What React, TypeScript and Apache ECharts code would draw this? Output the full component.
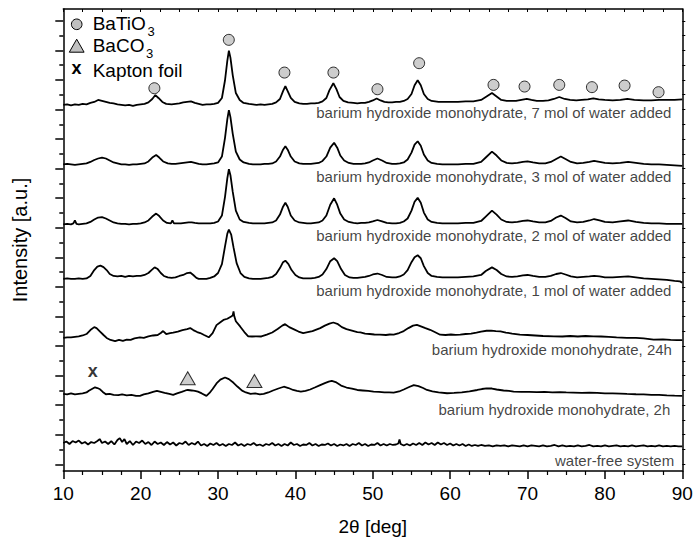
import React, { useEffect, useRef } from "react";
import * as echarts from "echarts";

const FONT = "Arial, 'Liberation Sans', Helvetica, sans-serif";

const traceNames = [
  "barium hydroxide monohydrate, 7 mol of water added",
  "barium hydroxide monohydrate, 3 mol of water added",
  "barium hydroxide monohydrate, 2 mol of water added",
  "barium hydroxide monohydrate, 1 mol of water added",
  "barium hydroxide monohydrate, 24h",
  "barium hydroxide monohydrate, 2h",
  "water-free system",
];

// vertical offset (stacking) of each pattern, arbitrary units
const traceOffsets = [364.7, 304.3, 243.4, 188.1, 128.2, 71.4, 21.6];

// [2theta, intensity above the pattern's own baseline] flat pairs
const trace7mol = [
  10,0, 10.5,0.5, 11,-0.5, 11.5,0.5, 12,0, 12.5,1, 13,0.5, 13.5,2, 14,3, 14.5,5, 15,4, 15.5,3, 16,2, 16.5,1.5, 17,0.5, 17.5,0, 18,-0.5, 18.5,0, 19,-1, 19.5,0, 20,0.5, 20.5,1, 21,2.5, 21.5,6, 21.9,10, 22.3,7, 22.8,3, 23.3,1, 24,0.5, 24.5,1, 25,1.5, 25.5,2.5, 26,3, 26.5,3.5, 27,2, 27.5,1, 28,0, 28.5,0.5, 29,0.5, 29.5,1, 30,2, 30.5,7, 30.9,25, 31.2,45, 31.4,55, 31.6,48, 31.9,30, 32.3,12, 32.8,5, 33.3,2, 34,1, 34.5,0.5, 35,0, 35.5,0.5, 36,0, 36.5,0.5, 37,1, 37.5,2.5, 38,6, 38.4,14, 38.7,19, 39,14, 39.4,7, 39.9,3, 40.5,1.5, 41,1, 41.5,1, 42,1.5, 42.5,1.5, 43,2, 43.5,3.5, 44,7, 44.4,15, 44.9,22, 45.3,16, 45.7,8, 46.2,4, 46.8,2.5, 47.5,2, 48,1.5, 48.5,2, 49,2, 49.5,3, 50,4.5, 50.5,6.5, 51,4.5, 51.5,3, 52,2.5, 52.5,2.5, 53,3, 53.5,3, 54,4, 54.5,6, 55,11, 55.4,20, 55.8,25, 56.2,20, 56.6,11, 57.1,6, 57.6,4, 58.5,3, 59,3, 60,3, 61,3, 62,3.5, 63,3.5, 64,5, 64.6,8, 65.4,12, 66,8.5, 66.6,5, 67.3,4, 68,4, 68.5,4, 69.2,5, 69.9,6, 70.5,5, 71.2,4, 72,4, 72.7,4.5, 73.4,6, 74.1,8, 74.8,6, 75.5,5, 76.3,4.5, 77,5, 77.8,5.5, 78.5,6.5, 79.2,5.5, 80,5, 81,4.5, 82,5, 82.9,6, 83.8,5, 85,4.5, 86,4.5, 87,5, 88,5, 89,5, 90,5.5,
];
const trace3mol = [
  10,0, 10.5,0.5, 11,0, 11.5,-0.5, 12,0, 12.5,0.5, 13,1, 13.5,2.5, 14,4.5, 14.5,6, 15,7, 15.5,6, 16,4, 16.5,2, 17,1, 17.5,0, 18,0, 18.5,-0.5, 19,0, 19.5,0, 20,0.5, 20.5,1, 21,3, 21.5,7, 22,9.5, 22.4,7, 22.9,3, 23.5,1, 24,0.5, 24.5,0.5, 25,1, 25.5,1.5, 26,2, 26.5,2.5, 27,1.5, 27.5,0.5, 28,0, 28.5,0, 29,0.5, 29.5,1, 30,2, 30.5,8, 30.9,27, 31.2,46, 31.4,55, 31.6,48, 31.9,31, 32.3,13, 32.8,5, 33.3,2, 34,0.5, 34.5,0, 35,0, 35.5,0, 36,0.5, 36.5,0.5, 37,1, 37.5,3, 38,8, 38.4,15, 38.7,18.5, 39,15, 39.4,8, 39.9,3, 40.5,1, 41,0.5, 41.5,0.5, 42,0.5, 42.5,1, 43,1.5, 43.5,3.5, 44,8, 44.5,17, 45,22, 45.4,17, 45.8,9, 46.3,4, 46.9,1.5, 47.5,0.5, 48,0.5, 48.5,0.5, 49,1, 49.5,2, 50,4, 50.6,6, 51.2,4, 51.8,1.5, 52.5,0.5, 53,0.5, 53.5,1, 54,2, 54.5,5, 55,12, 55.4,20, 55.8,23.5, 56.2,19, 56.6,10, 57.1,4, 57.6,1.5, 58.3,0.5, 59,0, 60,0, 61,0, 62,0.5, 63,0.5, 64,2.5, 64.6,7, 65.4,13, 66,9, 66.6,4, 67.3,1.5, 68,1, 68.7,1.5, 69.4,2.5, 70,3, 70.7,2, 71.5,1, 72.3,1, 73,2.5, 73.7,5.5, 74.3,8, 74.9,5.5, 75.6,2.5, 76.4,1, 77.2,1.5, 78,2.5, 78.6,3.5, 79.3,2.5, 80,1.5, 81,1, 82,1.5, 83,2.5, 84,1.5, 85,0.5, 86,0, 87,0, 88,-0.5, 89,-1, 90,-1.5,
];
const trace2mol = [
  10,0, 10.5,0.5, 11,0, 11.3,1, 11.5,4, 11.7,0.5, 12,0, 12.5,0.5, 13,1, 13.5,2.5, 14,5, 14.5,7, 15,7.5, 15.5,6, 16,4, 16.5,2, 17,1, 17.5,0.5, 18,0.5, 18.5,0, 19,0.5, 19.5,0.5, 20,1, 20.5,2, 21,4, 21.5,8, 22,11, 22.4,8.5, 22.9,4, 23.4,1.5, 23.9,1, 24.1,4, 24.3,1, 24.7,1, 25.2,1, 25.7,1.5, 26.2,2, 26.6,2, 27,1.5, 27.5,1, 28,1, 28.5,1, 29,1, 29.5,1.5, 30,3, 30.5,9, 30.9,28, 31.2,47, 31.4,56, 31.6,50, 31.9,33, 32.3,14, 32.8,5, 33.3,2.5, 34,1.5, 34.5,1, 35,1, 35.5,1, 36,1, 36.5,1.5, 37,2, 37.5,4, 38,10, 38.4,18, 38.7,22, 39,18, 39.4,9, 39.9,4, 40.5,2, 41,1.5, 41.5,1, 42,1, 42.5,1.5, 43,2, 43.5,4, 44,9, 44.5,20, 45,26.5, 45.4,20, 45.8,11, 46.3,5, 46.9,2.5, 47.5,1.5, 48,1, 48.5,1.5, 49,1.5, 49.5,2, 50,3, 50.6,4.5, 51.2,3, 51.8,1.5, 52.5,1, 53,1, 53.5,1.5, 54,3, 54.5,6, 55,14, 55.4,23, 55.8,27, 56.2,22, 56.6,12, 57.1,5, 57.6,2.5, 58.3,1.5, 59,1, 60,1, 61,1, 62,1.5, 63,1.5, 64,3.5, 64.6,8, 65.4,14, 66,10, 66.6,5, 67.3,2.5, 68,2, 68.7,2.5, 69.4,3.5, 70,4, 70.7,3, 71.5,2, 72.3,2, 73,3.5, 73.7,7, 74.3,9, 74.9,6.5, 75.6,3, 76.4,2, 77.2,2.5, 78,4, 78.6,5.5, 79.3,4, 80,2.5, 81,2, 82,3, 83,4, 84,2.5, 85,1.5, 86,1, 87,1, 88,0.5, 89,0.5, 90,0.5,
];
const trace1mol = [
  10,0, 10.5,0.5, 11,0, 11.5,0, 12,0.5, 12.5,0, 13,0.5, 13.5,3, 14,9, 14.4,12.5, 14.8,13.5, 15.2,12, 15.6,9, 16,5, 16.5,3, 17,2.5, 17.5,3, 18,2, 18.5,3, 19,2.5, 19.5,3, 20,3, 20.5,4, 21,6, 21.4,9, 21.8,11.7, 22.2,10, 22.6,6, 23,3, 23.5,1.5, 24,1, 24.5,1.5, 25,3, 25.5,4, 26,6, 26.4,6.5, 26.8,4, 27.2,1, 27.5,0, 28,0, 28.5,0, 29,1, 29.5,2.5, 30,6, 30.5,15, 30.9,33, 31.2,46, 31.4,50, 31.7,45, 32,32, 32.4,16, 32.9,6, 33.4,2, 34,0.5, 34.5,0, 35,0, 35.5,0, 36,0.5, 36.5,1, 37,2, 37.5,5, 38,11, 38.4,17, 38.7,18.5, 39.1,15, 39.5,9, 40,4, 40.5,1.5, 41,0.5, 41.5,0.5, 42,0.5, 42.5,1, 43,2, 43.5,4.5, 44,10, 44.5,18, 45,21, 45.4,18, 45.9,10, 46.4,4, 47,1.5, 47.5,1, 48,1, 48.5,1.5, 49,2, 49.5,3, 50,4.5, 50.6,5.5, 51.2,4, 51.8,2, 52.5,1.5, 53,1.5, 53.5,2.5, 54,4.5, 54.5,9, 55,17, 55.4,22, 55.8,24, 56.2,21, 56.6,13, 57.1,6, 57.6,3, 58.3,2, 59,1.5, 60,1.5, 61,1.5, 62,2, 63,2.5, 64,4, 64.6,8, 65.4,11.7, 66,9, 66.6,5, 67.3,2.5, 68,2, 68.7,2.5, 69.4,3.5, 70,4, 70.7,3, 71.5,2, 72.3,2, 73,3, 73.7,5, 74.3,6, 74.9,4.5, 75.6,2.5, 76.4,1.5, 77.2,2, 78,2.5, 78.6,3, 79.3,2.5, 80,1.5, 81,1.5, 82,2, 83,2.5, 84,1.5, 85,0.5, 86,0, 87,-0.5, 88,-1, 89,-2, 89.7,-2.5, 90,-3.7,
];
const trace24h = [
  10,0, 10.5,0.5, 11,0.5, 11.5,1, 12,1.5, 12.5,2.5, 13,4, 13.5,8, 14,11, 14.3,10, 14.75,6.5, 15.2,3, 15.6,0, 16.1,-2, 16.7,-3.3, 17.2,-2, 17.7,-3, 18.2,-1.7, 18.7,-2, 19.2,-0.5, 19.9,0.5, 20.4,0, 21,1.5, 21.6,2.5, 22.2,3, 22.6,5, 22.9,7, 23.3,4, 23.8,5, 24.2,5.5, 24.8,6.5, 25.4,8, 26,9, 26.4,10, 26.8,8, 27.3,6, 27.7,5, 28.2,3, 28.8,0.7, 29.3,5, 29.8,13, 30.3,16, 30.7,18.3, 31.2,19.5, 31.7,21.7, 31.9,23, 32,27, 32.1,22, 32.3,17, 32.85,11.7, 33.4,6, 33.9,1.7, 34.4,1.5, 35,1.7, 35.6,1.5, 36.3,3.3, 37,5.5, 37.7,9, 38.3,12.5, 38.67,14, 39.2,11, 39.75,9, 40.4,6.5, 41,5, 41.6,6, 42.2,7, 42.7,8.5, 43.2,10, 43.8,12.5, 44.4,14.5, 44.9,15.7, 45.5,14, 46,11, 46.6,9, 47.3,7.5, 48,6, 48.4,5.7, 49,4.5, 49.6,4, 50.2,3.5, 50.9,3.3, 51.7,3, 52.2,3.5, 52.7,3.3, 53.4,5, 54,7, 54.6,10, 55.2,12.5, 55.7,13.3, 56.3,11.5, 56.8,10, 57.4,8.3, 58,6, 58.7,3.3, 59.4,3, 60.1,3.5, 60.7,3.2, 61.3,3.3, 62,4, 62.7,4.5, 63.4,5.5, 64,6.5, 64.7,7.3, 65.3,7.5, 65.9,7, 66.5,6.7, 67.2,5.5, 68,4.5, 69,3.3, 70,3, 71,2.5, 72,2, 73.4,1.7, 74.5,1.5, 75.5,2, 76.5,1.5, 77.5,2, 78.5,1.7, 79.5,1.5, 80.5,1, 81.5,0.5, 82.85,0, 84,0, 85,-0.5, 86.3,-1.7, 87.5,-1.5, 88.5,-2, 89.3,-2.3, 90,-2.3,
];
const trace2h = [
  10,0, 10.5,-0.5, 11,0.5, 11.5,-0.5, 12,0, 12.5,0.5, 13,1.5, 13.3,3.3, 13.7,5, 14.1,6.7, 14.4,6, 14.75,4.7, 15.1,2, 15.5,-0.3, 16,0, 16.5,-1, 17.1,-1.3, 17.6,-0.5, 18.2,-1.5, 18.8,-1, 19.4,-2, 19.9,-2, 20.4,-0.5, 21,0.5, 21.6,2, 22.1,3, 22.6,2, 23.1,1, 23.7,0, 24.2,-1, 24.7,0.5, 25.3,2, 25.8,3.5, 26.1,4, 26.6,3.5, 27,3, 27.4,2.3, 27.9,0.5, 28.5,-2, 28.9,1, 29.3,5, 29.8,10.7, 30.3,14.5, 30.9,16.7, 31.4,15, 32,11.3, 32.5,7.5, 33.1,3.3, 33.6,1.5, 34.2,0, 34.8,0.5, 35.4,-0.5, 35.9,0, 36.5,1.5, 37.1,3.5, 37.8,5.5, 38.5,7.3, 39.1,6, 39.7,4, 40.2,3, 40.7,2.3, 41.3,3, 41.9,4.5, 42.5,6.5, 43.2,9, 43.8,11, 44.3,12.5, 44.7,13.3, 45.2,12, 45.9,8.5, 46.6,6.5, 47.3,5.5, 48,4, 48.7,3.5, 49.4,3, 50.1,2.3, 50.8,2, 51.5,1.5, 52.1,1.5, 52.7,1.3, 53.4,2.5, 54,4.5, 54.7,7, 55.3,9, 55.9,8, 56.5,6, 57,4, 57.7,2.5, 58.5,1.5, 59.6,0.7, 60.5,1, 61.5,1.5, 62.5,2.5, 63.5,4, 64.1,5, 64.7,5.7, 65.4,5.5, 66,4.5, 66.9,3.5, 67.6,3, 68.2,2.3, 69.2,2, 70.2,2, 71.2,1.8, 72.2,2, 73.2,1.5, 74.2,1.8, 75,1.5, 75.9,1.3, 77,1, 78,1.3, 79,1, 80,0.5, 81,0.5, 82,0.3, 82.85,0, 84,-0.3, 85,-0.5, 86,-1, 87,-1, 88,-1.5, 89,-1.8, 90,-2,
];
const traceWaterFree = [
  10,0, 10.4,1.5, 10.8,-1, 11.2,2, 11.6,0.5, 12,2.5, 12.4,-0.5, 12.8,1, 13.2,-1.5, 13.6,1, 14,0, 14.4,2, 14.7,4, 15,0, 15.4,1.5, 15.8,-1, 16.2,2, 16.6,-1.5, 17,3, 17.3,5, 17.6,1, 17.9,4, 18.2,-1, 18.6,2, 19,-2, 19.4,1.5, 19.8,0, 20.2,2.5, 20.6,-1, 21,1, 21.4,-2, 21.8,1.5, 22.2,-1, 22.6,0.5, 23,-2, 23.4,1, 23.8,-1.5, 24.2,0.5, 24.6,-2.5, 25,0, 25.4,-1, 25.8,1.5, 26.2,-2, 26.6,0, 27,-1.5, 27.4,1.5, 27.8,-2.5, 28.2,-1, 28.6,-3, 29,-0.5, 29.4,-2, 29.8,0, 30.2,-2.5, 30.6,-1, 31,-3, 31.4,-1, 31.8,-2, 32.2,0.5, 32.6,-2.5, 33,-1, 33.4,-3, 33.8,-1, 34.2,-2, 34.6,0, 35,-2.5, 35.4,-1.5, 35.8,-3, 36.2,-1, 36.6,-2, 37,0, 37.4,-2.5, 37.8,-1, 38.2,-3, 38.6,-1, 39,-2.5, 39.4,0.5, 39.8,-2, 40.2,-1, 40.6,-3, 41,-1.5, 41.4,-2, 41.8,0, 42.2,-2.5, 42.6,-1, 43,-3, 43.4,-1.5, 43.8,-2, 44.2,-0.5, 44.6,-2.5, 45,-1, 45.4,-3, 45.8,-1.5, 46.2,-2.5, 46.6,-1, 47,-3, 47.4,-1, 47.8,-2, 48.2,0, 48.6,-2.5, 49,-1, 49.4,-3, 49.8,-1.5, 50.2,-2, 50.6,0, 51,-2.5, 51.4,-1, 51.8,-2.5, 52.2,-1, 52.6,-2, 53,-1.5, 53.3,-0.5, 53.45,3.5, 53.6,-1, 54,-2.5, 54.4,-1, 54.8,-2.5, 55.2,-0.5, 55.6,-2, 56,0, 56.4,-2, 56.8,0.5, 57.2,-1.5, 57.6,0, 58,-2, 58.4,0.5, 58.8,-1.5, 59.2,0, 59.6,-2, 60,-0.5, 60.4,-2.5, 60.8,-1, 61.2,-2.5, 61.6,-1, 62,-3, 62.4,-1.5, 62.8,-3, 63.2,-2, 63.6,-3, 64,-2, 64.5,-3, 65,-2.5, 65.5,-3.5, 66,-2.5, 66.5,-3, 67,-2.5, 67.5,-3.5, 68,-2.5, 68.5,-3, 69,-3.5, 69.5,-2.5, 70,-3.5, 70.5,-2.5, 71,-3, 71.5,-3.5, 72,-2.5, 72.5,-3.5, 73,-3, 73.5,-2, 74,-3.5, 74.5,-2.5, 75,-3.5, 75.5,-3, 76,-3.5, 76.5,-2.5, 77,-3.5, 77.5,-3, 78,-2, 78.5,-3.5, 79,-3, 79.5,-3.5, 80,-2.5, 80.5,-3.5, 81,-3, 81.5,-2.5, 82,-3.5, 82.5,-3, 83,-3.5, 83.5,-2.5, 84,-3.5, 84.5,-3, 85,-2.5, 85.5,-3.5, 86,-3, 86.5,-3.5, 87,-2.5, 87.5,-3.5, 88,-3, 88.5,-3.5, 89,-3, 89.5,-3.5, 90,-3.5,
];

const traces = [trace7mol, trace3mol, trace2mol, trace1mol, trace24h, trace2h, traceWaterFree];

// phase markers [2theta, intensity]
const batio3Markers = [
  [21.77, 381.6], [31.39, 430.7], [38.58, 397.5], [44.91, 397.5], [50.6, 380.6], [55.99, 407],
  [65.6, 385], [69.61, 383.3], [74.1, 385], [78.32, 382.7], [82.54, 384.3], [86.93, 377.6],
];
const baco3Markers = [[26.08, 87.3], [34.7, 84.5]];
const kaptonMarkers = [[13.8, 94.2]];

// trace caption anchors (right end of text)
const captionX = [88.6, 88.6, 88.6, 88.6, 88.66, 88.45, 88.95];
const captionY = [356.6, 291.9, 231.7, 176.2, 116.0, 56.1, 3.7];

const xMin = 10;
const xMax = 90;
const xInterval = 10;
const yMin = -6.8;
const yMax = 462;
const yMajorTicks = [0, 30, 60, 90, 120, 150, 180, 210, 240, 270, 300, 330, 360, 390, 420, 450];
const yMinorTicks = [15, 45, 75, 105, 135, 165, 195, 225, 255, 285, 315, 345, 375, 405, 435];
const yAllTicks = [...yMajorTicks, ...yMinorTicks].sort((a, b) => a - b);

function toPairs(flat: number[], offset: number): number[][] {
  const out: number[][] = [];
  for (let i = 0; i < flat.length; i += 2) out.push([flat[i], offset + flat[i + 1]]);
  return out;
}

const BLACK = "#000";
const MARK_FILL = "#c0c0c0";

export default function App() {
  const ref = useRef<HTMLDivElement>(null);
  useEffect(() => {
    document.body.style.margin = "0";
    const chart = echarts.init(ref.current!, undefined, { renderer: "svg" });
    const axisLine = { onZero: false, lineStyle: { color: BLACK, width: 1.5 } };
    const lineSeries = traces.map((t, i) => ({
      type: "line",
      name: traceNames[i],
      data: toPairs(t, traceOffsets[i]),
      showSymbol: false,
      symbol: "none",
      silent: true,
      lineStyle: { color: BLACK, width: 1.8 },
      z: 2,
    }));
    const option: any = {
      animation: false,
      textStyle: { fontFamily: FONT },
      grid: { left: 63.3, right: 13.7, top: 9, bottom: 70, containLabel: false },
      xAxis: [
        {
          type: "value", position: "bottom", min: xMin, max: xMax, interval: xInterval,
          axisLine,
          axisTick: { show: true, inside: false, length: 8, lineStyle: { color: BLACK, width: 1.5 } },
          minorTick: { show: true, splitNumber: 4, length: 4, lineStyle: { color: BLACK, width: 1.2 } },
          splitLine: { show: false }, minorSplitLine: { show: false },
          axisLabel: { color: BLACK, fontSize: 19, fontFamily: FONT, margin: 13 },
          name: "2θ [deg]", nameLocation: "middle", nameGap: 46,
          nameTextStyle: { color: BLACK, fontSize: 19, fontFamily: FONT },
        },
        {
          type: "value", position: "top", min: xMin, max: xMax, interval: xInterval,
          axisLine,
          axisTick: { show: true, inside: true, length: 3, lineStyle: { color: BLACK, width: 1 } },
          minorTick: { show: true, splitNumber: 4, length: 3, lineStyle: { color: BLACK, width: 1 } },
          splitLine: { show: false }, axisLabel: { show: false },
        },
      ],
      yAxis: [
        {
          type: "value", position: "left", min: yMin, max: yMax,
          axisLine,
          axisTick: { show: true, length: 8, customValues: yMajorTicks, lineStyle: { color: BLACK, width: 1.5 } },
          axisLabel: { show: false }, splitLine: { show: false },
          name: "Intensity [a.u.]", nameLocation: "middle", nameGap: 33, nameRotate: 90,
          nameTextStyle: { color: BLACK, fontSize: 20, fontFamily: FONT },
        },
        {
          type: "value", position: "left", min: yMin, max: yMax,
          axisLine: { show: false, onZero: false },
          axisTick: { show: true, length: 4, customValues: yMinorTicks, lineStyle: { color: BLACK, width: 1.5 } },
          axisLabel: { show: false }, splitLine: { show: false },
        },
        {
          type: "value", position: "right", min: yMin, max: yMax,
          axisLine,
          axisTick: { show: true, length: 3, customValues: yAllTicks, lineStyle: { color: BLACK, width: 1 } },
          axisLabel: { show: false }, splitLine: { show: false },
        },
      ],
      series: [
        ...lineSeries,
        {
          type: "scatter", name: "BaTiO3", data: batio3Markers, symbol: "circle", symbolSize: 11,
          itemStyle: { color: MARK_FILL, borderColor: BLACK, borderWidth: 1 }, z: 3, silent: true,
        },
        {
          type: "scatter", name: "BaCO3", data: baco3Markers, symbol: "triangle", symbolSize: [15, 13],
          itemStyle: { color: MARK_FILL, borderColor: BLACK, borderWidth: 1 }, z: 3, silent: true,
        },
        {
          type: "scatter", name: "Kapton foil", data: kaptonMarkers, symbolSize: 0, silent: true,
          label: { show: true, position: "inside", formatter: "x", fontSize: 18, fontWeight: "bold", color: BLACK, fontFamily: FONT },
        },
        {
          type: "scatter", name: "captions", symbolSize: 0, silent: true,
          data: captionX.map((x, i) => ({ value: [x, captionY[i]], name: traceNames[i] })),
          label: { show: true, position: "left", distance: 0, formatter: "{b}", fontSize: 15, color: "#111", fontFamily: FONT },
        },
      ],
      graphic: [
        { type: "circle", shape: { cx: 76.7, cy: 24.3, r: 5.3 }, style: { fill: MARK_FILL, stroke: BLACK, lineWidth: 1 } },
        { type: "polygon", shape: { points: [[76.7, 39.2], [69.3, 52.2], [84.1, 52.2]] }, style: { fill: MARK_FILL, stroke: BLACK, lineWidth: 1 } },
        { type: "text", x: 76.5, y: 68, style: { text: "x", fontSize: 18, fontWeight: "bold", fill: BLACK, align: "center", verticalAlign: "middle", fontFamily: FONT } },
        { type: "text", x: 92.7, y: 23.5, style: { text: "BaTiO", fontSize: 19, lineHeight: 19, fill: BLACK, verticalAlign: "middle", fontFamily: FONT } },
        { type: "text", x: 147.5, y: 31.5, style: { text: "3", fontSize: 13, lineHeight: 12, fill: BLACK, verticalAlign: "middle", fontFamily: FONT } },
        { type: "text", x: 92.7, y: 45.5, style: { text: "BaCO", fontSize: 19, lineHeight: 19, fill: BLACK, verticalAlign: "middle", fontFamily: FONT } },
        { type: "text", x: 146, y: 53.3, style: { text: "3", fontSize: 13, lineHeight: 12, fill: BLACK, verticalAlign: "middle", fontFamily: FONT } },
        { type: "text", x: 92.7, y: 70, style: { text: "Kapton foil", fontSize: 19, lineHeight: 19, fill: BLACK, verticalAlign: "middle", fontFamily: FONT } },
      ],
    };
    chart.setOption(option);
    return () => chart.dispose();
  }, []);
  return <div ref={ref} style={{ position: "fixed", left: 0, top: 0, width: 696, height: 541, background: "#fff" }} />;
}
